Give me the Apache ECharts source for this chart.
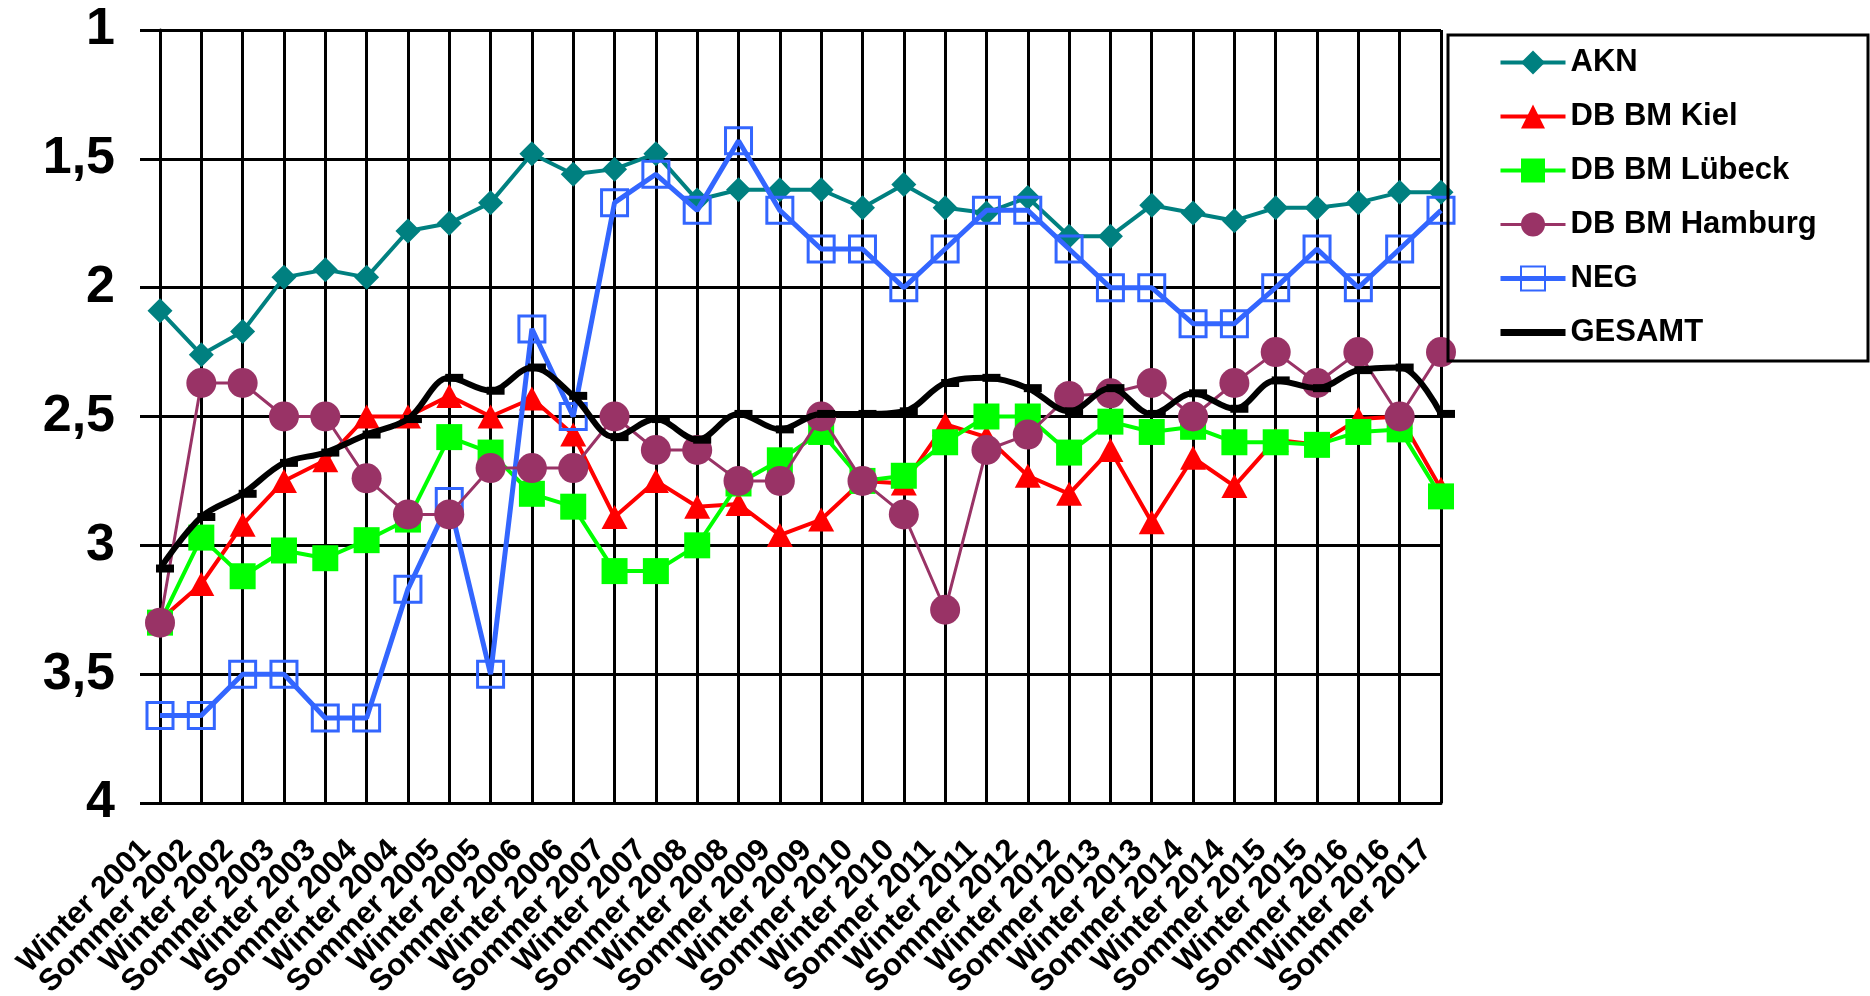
<!DOCTYPE html>
<html><head><meta charset="utf-8">
<script src="https://cdn.jsdelivr.net/npm/echarts@6/dist/echarts.min.js"></script>
<style>html,body{margin:0;padding:0;background:#fff}#c{width:1870px;height:996px}</style>
</head><body><div id="c"></div>
<script>
const categories = ['Winter 2001','Sommer 2002','Winter 2002','Sommer 2003','Winter 2003','Sommer 2004','Winter 2004','Sommer 2005','Winter 2005','Sommer 2006','Winter 2006','Sommer 2007','Winter 2007','Sommer 2008','Winter 2008','Sommer 2009','Winter 2009','Sommer 2010','Winter 2010','Sommer 2011','Winter 2011','Sommer 2012','Winter 2012','Sommer 2013','Winter 2013','Sommer 2014','Winter 2014','Sommer 2015','Winter 2015','Sommer 2016','Winter 2016','Sommer 2017'];
const akn     = [2.09,2.26,2.17,1.96,1.93,1.96,1.78,1.75,1.67,1.48,1.56,1.54,1.48,1.66,1.62,1.62,1.62,1.69,1.60,1.69,1.71,1.65,1.80,1.80,1.68,1.71,1.74,1.69,1.69,1.67,1.63,1.63];
const kiel    = [3.29,3.15,2.92,2.75,2.67,2.50,2.50,2.42,2.50,2.43,2.57,2.89,2.75,2.85,2.84,2.96,2.90,2.75,2.76,2.53,2.58,2.73,2.80,2.63,2.91,2.66,2.77,2.59,2.61,2.51,2.50,2.78];
const luebeck = [3.30,2.97,3.12,3.02,3.05,2.98,2.90,2.58,2.64,2.80,2.85,3.10,3.10,3.00,2.76,2.67,2.56,2.75,2.73,2.60,2.50,2.50,2.64,2.52,2.56,2.54,2.60,2.60,2.61,2.56,2.55,2.81];
const hamburg = [3.30,2.37,2.37,2.50,2.50,2.74,2.88,2.88,2.70,2.70,2.70,2.50,2.63,2.63,2.75,2.75,2.50,2.75,2.88,3.25,2.63,2.57,2.42,2.41,2.37,2.50,2.37,2.25,2.37,2.25,2.50,2.25];
const neg     = [3.66,3.66,3.50,3.50,3.67,3.67,3.17,2.83,3.50,2.16,2.50,1.67,1.56,1.70,1.43,1.70,1.85,1.85,2.00,1.85,1.70,1.70,1.85,2.00,2.00,2.14,2.14,2.00,1.85,2.00,1.85,1.70];
const gesamt  = [3.09,2.89,2.80,2.68,2.64,2.57,2.51,2.35,2.40,2.31,2.42,2.58,2.51,2.59,2.49,2.55,2.49,2.49,2.48,2.37,2.35,2.39,2.48,2.39,2.49,2.41,2.47,2.36,2.39,2.32,2.31,2.49];
const seriesNames = ['AKN','DB BM Kiel','DB BM Lübeck','DB BM Hamburg','NEG','GESAMT'];

const FONT = '"Liberation Sans", Arial, sans-serif';
const chart = echarts.init(document.getElementById('c'), null, {renderer:'canvas'});
const option = {
  animation:false,
  backgroundColor:'#fff',
  grid:{left:160,right:429,top:30,bottom:193,containLabel:false,outerBoundsMode:'none'},
  legend:{
    orient:'vertical', left:1498, top:47, padding:0,
    itemWidth:65, itemHeight:30, itemGap:23,
    lineStyle:{width:'inherit'},
    textStyle:{fontFamily:FONT,fontSize:31,fontWeight:'bold',color:'#000'},
    data:[
      {name:'AKN'},{name:'DB BM Kiel'},{name:'DB BM Lübeck'},{name:'DB BM Hamburg'},{name:'NEG'},
      {name:'GESAMT', icon:'path://M0,0H65V7H0Z'}
    ],
    selectedMode:false
  },
  graphic:[{type:'rect',shape:{x:1448,y:35,width:420,height:326},style:{fill:'none',stroke:'#000',lineWidth:3},z:10}],
  xAxis:{
    type:'category', data:categories, boundaryGap:false,
    axisLine:{show:true,lineStyle:{color:'#000',width:3}},
    axisTick:{show:false},
    splitLine:{show:true,lineStyle:{color:'#000',width:3}},
    axisLabel:{interval:0,rotate:45,margin:28,padding:[0,20,0,0],fontFamily:FONT,fontSize:31,fontWeight:'bold',color:'#000'}
  },
  yAxis:{
    type:'value', inverse:true, min:1, max:4, interval:0.5,
    axisLine:{show:true,lineStyle:{color:'#000',width:3}},
    axisTick:{show:true,length:20,lineStyle:{color:'#000',width:3}},
    splitLine:{show:true,lineStyle:{color:'#000',width:3}},
    axisLabel:{margin:45,fontFamily:FONT,fontSize:52,fontWeight:'bold',color:'#000',
      formatter:v=>String(v).replace('.',',')}
  },
  series:[
    {name:seriesNames[0],type:'line',data:akn,symbol:'diamond',symbolSize:25,
      itemStyle:{color:'#008080'},lineStyle:{color:'#008080',width:4},z:2},
    {name:seriesNames[1],type:'line',data:kiel,symbol:'triangle',symbolSize:[26,24],
      itemStyle:{color:'#FF0000'},lineStyle:{color:'#FF0000',width:4},z:3},
    {name:seriesNames[2],type:'line',data:luebeck,symbol:'rect',symbolSize:26,
      itemStyle:{color:'#00FF00'},lineStyle:{color:'#00FF00',width:4},z:4},
    {name:seriesNames[3],type:'line',data:hamburg,symbol:'circle',symbolSize:30,
      itemStyle:{color:'#993366'},lineStyle:{color:'#993366',width:3},z:5},
    {name:seriesNames[4],type:'line',data:neg,symbol:'rect',symbolSize:26,
      itemStyle:{color:'rgba(255,255,255,0)',borderColor:'#3366FF',borderWidth:3},
      lineStyle:{color:'#3366FF',width:5},z:4},
    {name:seriesNames[5],type:'line',data:gesamt,symbol:'rect',symbolSize:[18,8],symbolOffset:[5,0],
      smooth:0.35,itemStyle:{color:'#000'},lineStyle:{color:'#000',width:6},z:6}
  ]
};
chart.setOption(option);
</script>
</body></html>
